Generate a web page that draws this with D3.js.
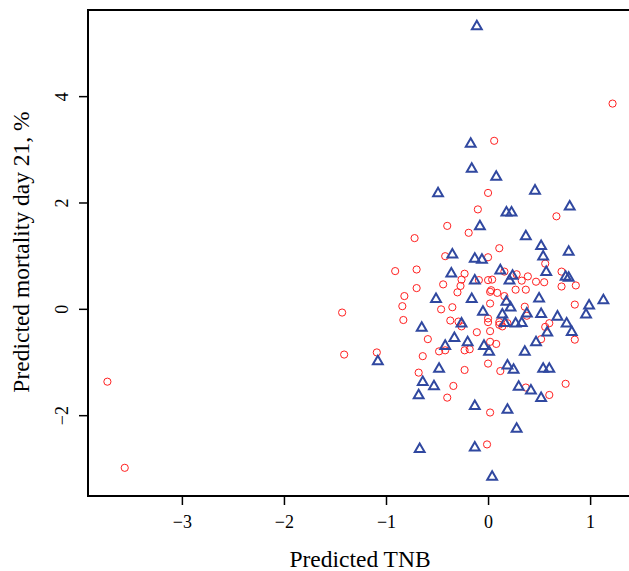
<!DOCTYPE html>
<html>
<head>
<meta charset="utf-8">
<script src="https://cdn.jsdelivr.net/npm/d3@7"></script>
<style>
    body { margin: 0; background: #fff; }
    text { font-family: "Liberation Serif", "Times New Roman", serif; fill: #000; }
</style>
</head>
<body>
<div id="chart"></div>
<script>
// tick labels
const xTicks = [-3, -2, -1, 0, 1];
const yTicks = [-2, 0, 2, 4];

// group 1: red open circles
const circX = [-3.73, -3.56, 1.22, 0.06, 0.00, -0.10, 0.67, -0.40, -0.19, -0.72,
    0.11, -0.42, 0.00, -0.91, -0.70, -0.23, 0.16, 0.28, 0.39, -0.26,
    -0.09, 0.00, 0.04, 0.33, 0.47, 0.55, 0.72, 0.56, 0.72, 0.86,
    -0.44, -0.27, -0.70, -0.30, 0.02, 0.09, 0.03, 0.27, 0.37, -0.82,
    0.16, 0.02, -0.84, -0.35, 0.36, 0.85, -0.46, -0.83, -0.37, -0.29,
    -0.26, 0.00, 0.00, 0.11, 0.11, 0.14, 0.19, 0.38, 0.56, 0.60,
    -0.11, 0.02, -0.59, 0.02, 0.08, 0.52, 0.85, -0.48, -0.42, -0.23,
    -0.18, -0.64, -1.09, -1.41, -1.43, 0.00, -0.23, 0.12, -0.68, -0.34,
    0.76, 0.37, 0.60, -0.40, 0.02, -0.01];
const circY = [-1.37, -2.99, 3.86, 3.16, 2.18, 1.87, 1.74, 1.56, 1.43, 1.33,
    1.14, 0.99, 0.97, 0.71, 0.74, 0.66, 0.70, 0.65, 0.61, 0.55,
    0.54, 0.54, 0.55, 0.53, 0.51, 0.50, 0.70, 0.85, 0.42, 0.44,
    0.46, 0.43, 0.39, 0.31, 0.32, 0.30, 0.35, 0.36, 0.36, 0.24,
    0.24, 0.10, 0.05, 0.03, 0.04, 0.08, -0.01, -0.21, -0.22, -0.24,
    -0.33, -0.18, -0.25, -0.25, -0.30, -0.33, -0.27, -0.13, -0.34, -0.27,
    -0.44, -0.42, -0.57, -0.62, -0.66, -0.57, -0.58, -0.80, -0.78, -0.78,
    -0.76, -0.89, -0.82, -0.86, -0.07, -1.03, -1.15, -1.17, -1.20, -1.45,
    -1.41, -1.48, -1.62, -1.67, -1.95, -2.55];

// group 2: blue open triangles
const triX = [-0.11, -0.17, -0.16, 0.08, -0.49, 0.46, 0.80, 0.18, 0.23, -0.08,
    0.37, 0.52, -0.35, 0.79, 0.54, -0.13, -0.06, 0.12, 0.57, -0.36,
    0.24, 0.21, 0.76, 0.79, -0.13, -0.51, -0.16, 0.50, 0.18, 1.13,
    0.99, 0.22, -0.05, 0.14, 0.38, 0.52, 0.96, 0.68, -0.26, 0.165,
    0.27, 0.33, 0.77, -0.65, 0.58, 0.82, -0.33, -0.20, 0.47, -0.42,
    -0.04, 0.01, 0.36, -1.08, 0.19, -0.48, 0.25, 0.54, 0.60, -0.64,
    -0.53, 0.30, 0.42, -0.68, 0.52, -0.13, 0.19, 0.28, -0.67, -0.13,
    0.04];
const triY = [5.31, 3.10, 2.63, 2.48, 2.17, 2.22, 1.92, 1.81, 1.81, 1.55,
    1.36, 1.18, 1.02, 1.07, 0.98, 0.94, 0.92, 0.72, 0.69, 0.66,
    0.62, 0.53, 0.60, 0.58, 0.53, 0.18, 0.18, 0.19, 0.13, 0.16,
    0.06, 0.02, -0.06, -0.11, -0.09, -0.10, -0.11, -0.15, -0.28, -0.27,
    -0.28, -0.27, -0.28, -0.36, -0.45, -0.44, -0.55, -0.63, -0.63, -0.70,
    -0.70, -0.81, -0.81, -0.99, -1.07, -1.13, -1.15, -1.13, -1.13, -1.38,
    -1.46, -1.47, -1.54, -1.63, -1.68, -1.83, -1.90, -2.26, -2.64, -2.61,
    -3.16];

const W = 629, H = 571;

const svg = d3.select("#chart")
    .append("svg")
    .attr("width", W)
    .attr("height", H);

const x = d3.scaleLinear().domain([-3.92, 1.43]).range([88, 634]);
const y = d3.scaleLinear().domain([-3.52, 5.62]).range([496, 10]);
const fmt = d3.format("d");

// x axis
const xAxis = svg.append("g")
    .attr("transform", "translate(0,496)")
    .call(d3.axisBottom(x).tickValues(xTicks).tickFormat(fmt).tickSize(9).tickPadding(10));
xAxis.select(".domain").remove();
xAxis.selectAll("line").attr("stroke", "#000").attr("stroke-width", 1.5);
xAxis.selectAll("text").attr("font-size", 18).attr("font-family", "Liberation Serif");

// y axis, labels turned like R does
const yAxis = svg.append("g")
    .attr("transform", "translate(88,0)")
    .call(d3.axisLeft(y).tickValues(yTicks).tickFormat(fmt).tickSize(9));
yAxis.select(".domain").remove();
yAxis.selectAll("line").attr("stroke", "#000").attr("stroke-width", 1.5);
yAxis.selectAll("text")
    .attr("font-size", 18)
    .attr("font-family", "Liberation Serif")
    .attr("x", null)
    .attr("dy", null)
    .attr("text-anchor", "middle")
    .attr("transform", "translate(-26,0) rotate(-90)")
    .attr("dominant-baseline", "central");

// box
svg.append("rect")
    .attr("x", 88)
    .attr("y", 10)
    .attr("width", 634 - 88)
    .attr("height", 496 - 10)
    .attr("fill", "none")
    .attr("stroke", "#000")
    .attr("stroke-width", 2);

// points
const circles = circX.map((v, i) => ({x: v, y: circY[i]}));
const tris = triX.map((v, i) => ({x: v, y: triY[i]}));

svg.append("g").selectAll("circle")
    .data(circles)
    .enter()
    .append("circle")
    .attr("cx", d => x(d.x))
    .attr("cy", d => y(d.y))
    .attr("r", 3.6)
    .attr("fill", "none")
    .attr("stroke", "#ff2020")
    .attr("stroke-width", 1);

const tri = d3.symbol().type(d3.symbolTriangle).size(42);
svg.append("g").selectAll("path")
    .data(tris)
    .enter()
    .append("path")
    .attr("d", tri)
    .attr("transform", d => `translate(${x(d.x)},${y(d.y)})`)
    .attr("fill", "none")
    .attr("stroke", "#3048a0")
    .attr("stroke-width", 2);

// titles
svg.append("text")
    .attr("x", 360)
    .attr("y", 559)
    .attr("text-anchor", "middle")
    .attr("dominant-baseline", "central")
    .attr("font-size", 23.5)
    .text("Predicted TNB");

svg.append("text")
    .attr("transform", "translate(21,252) rotate(-90)")
    .attr("text-anchor", "middle")
    .attr("dominant-baseline", "central")
    .attr("font-size", 23.5)
    .text("Predicted mortality day 21, %");
</script>
</body>
</html>
